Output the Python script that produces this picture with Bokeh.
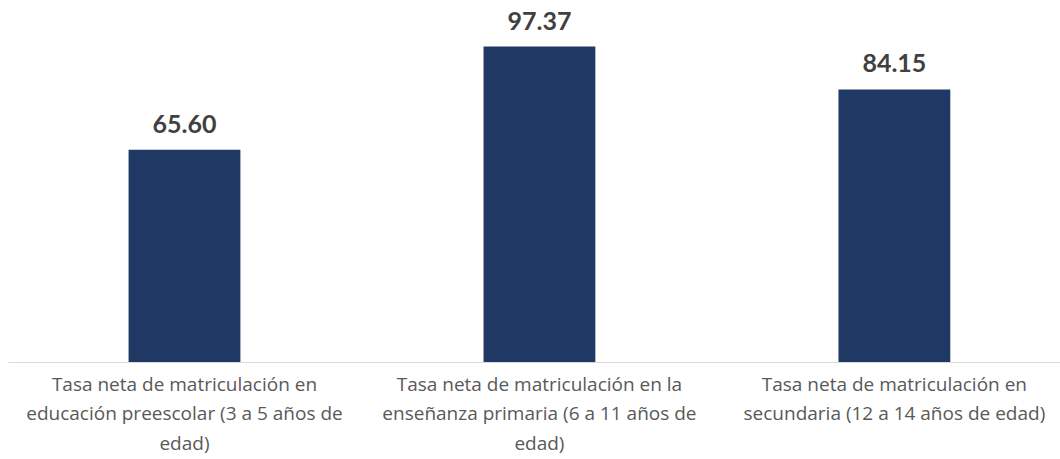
from bokeh.plotting import figure
from bokeh.models import ColumnDataSource, FixedTicker, Range1d
from bokeh.embed import file_html
from bokeh.resources import INLINE
from bokeh.core.properties import value

categories = [
    "Tasa neta de matriculación en\neducación preescolar (3 a 5 años de\nedad)",
    "Tasa neta de matriculación en la\nenseñanza primaria (6 a 11 años de\nedad)",
    "Tasa neta de matriculación en\nsecundaria (12 a 14 años de edad)",
]
values = [65.60, 97.37, 84.15]
value_labels = ["65.60", "97.37", "84.15"]

xs = list(range(len(categories)))
src = ColumnDataSource(dict(x=xs, top=values, lab=value_labels))

p = figure(width=1060, height=459, output_backend="svg", toolbar_location=None,
           x_range=Range1d(-0.4958, 2.468), y_range=Range1d(0, 111.56),
           min_border_left=8, min_border_right=0, min_border_top=0, min_border_bottom=97)
p.outline_line_color = None
p.grid.grid_line_color = None
p.yaxis.visible = False

p.vbar(x="x", top="top", width=0.315, source=src, fill_color="#203864", line_color=None)
p.text(x="x", y="top", text="lab", source=src, y_offset=-26,
       text_align="center", text_baseline="alphabetic",
       text_font=value("Lato"), text_font_style="bold", text_font_size="25px",
       text_color="#404040")

ax = p.xaxis[0]
ax.ticker = FixedTicker(ticks=xs)
ax.major_label_overrides = {i: c for i, c in zip(xs, categories)}
ax.major_tick_line_color = None
ax.minor_tick_line_color = None
ax.axis_line_color = "#D9D9D9"
ax.axis_line_width = 1
ax.major_label_text_font = "Open Sans"
ax.major_label_text_font_size = "19px"
ax.major_label_text_color = "#595959"
ax.major_label_text_line_height = 1.15
ax.major_label_standoff = 2

open("out.html", "w").write(file_html(p, INLINE))
